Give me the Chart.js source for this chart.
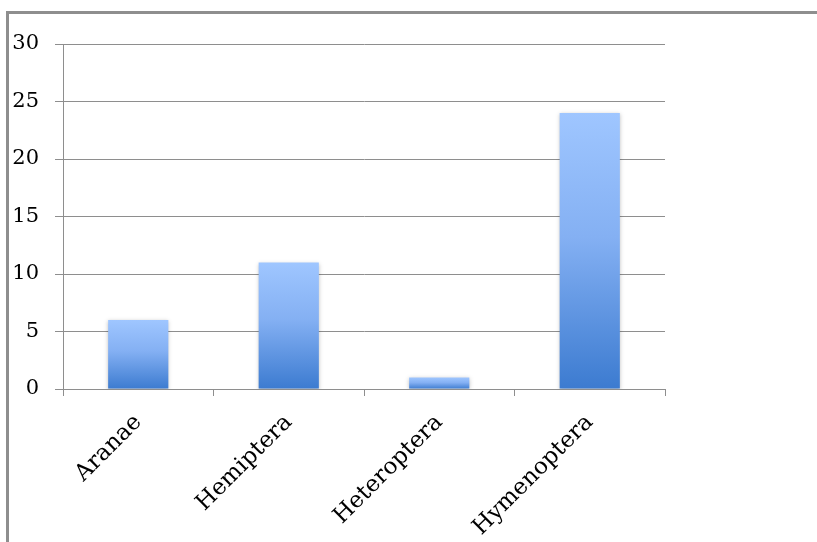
<!DOCTYPE html>
<html>
<head>
<meta charset="utf-8">
<script src="https://cdn.jsdelivr.net/npm/chart.js@4/dist/chart.umd.min.js"></script>
<style>
  html, body { margin: 0; padding: 0; background: #fff; overflow: hidden; }
  #frame { position: absolute; left: 6px; top: 11px; width: 900px; height: 600px;
           border: 3px solid #8e8e8e; box-sizing: border-box; }
  #wrap { position: absolute; left: 0; top: 0; width: 817px; height: 542px; }
</style>
</head>
<body>
<div id="frame"></div>
<div id="wrap"><canvas id="chart" width="817" height="542"></canvas></div>
<script>
// insect orders and counts
const orders = ['Aranae', 'Hemiptera', 'Heteroptera', 'Hymenoptera']
const counts = [6, 11, 1, 24]
const yMax = 30
const yStep = 5

const serif = "'DejaVu Serif', 'Liberation Serif', serif"

function barFill(ctx) {
    const chart = ctx.chart
    if (!chart.chartArea || ctx.type !== 'data') return '#6a9de8'
    const y = chart.scales.y
    const top = y.getPixelForValue(ctx.raw)
    const base = y.getPixelForValue(0)
    const g = chart.ctx.createLinearGradient(0, top, 0, base)
    g.addColorStop(0, '#9fc6ff')
    g.addColorStop(0.45, '#84b0f3')
    g.addColorStop(1, '#3c7bd0')
    return g
}

const shadow = {
    id: 'shadow',
    beforeDatasetsDraw(chart) {
        chart.ctx.save()
        chart.ctx.shadowColor = 'rgba(0,0,0,0.25)'
        chart.ctx.shadowBlur = 4
        chart.ctx.shadowOffsetY = 1
    },
    afterDatasetsDraw(chart) {
        chart.ctx.restore()
    }
}

new Chart('chart', {
    type: 'bar',
    data: {
        labels: orders,
        datasets: [{
            data: counts,
            backgroundColor: barFill,
            borderWidth: 0,
            barPercentage: 0.4,
            categoryPercentage: 1
        }]
    },
    options: {
        responsive: false,
        animation: false,
        layout: { padding: { left: 0, top: 44, right: 152, bottom: 0 } },
        plugins: { legend: { display: false }, tooltip: { enabled: false } },
        scales: {
            x: {
                offset: true,
                afterFit: (s) => { s.height = 153 },
                grid: { offset: true, drawOnChartArea: false, color: '#8e8e8e', tickLength: 7 },
                border: { display: false },
                ticks: {
                    minRotation: 45, maxRotation: 45, padding: 13,
                    color: '#000', font: { family: serif, size: 23 }
                }
            },
            y: {
                min: 0, max: yMax,
                afterFit: (s) => { s.width = 63 },
                ticks: {
                    stepSize: yStep, padding: 16,
                    color: '#000', font: { family: serif, size: 21 }
                },
                grid: { color: '#8e8e8e', tickLength: 8 },
                border: { display: true, color: '#8e8e8e' }
            }
        }
    },
    plugins: [shadow]
})
</script>
</body>
</html>
